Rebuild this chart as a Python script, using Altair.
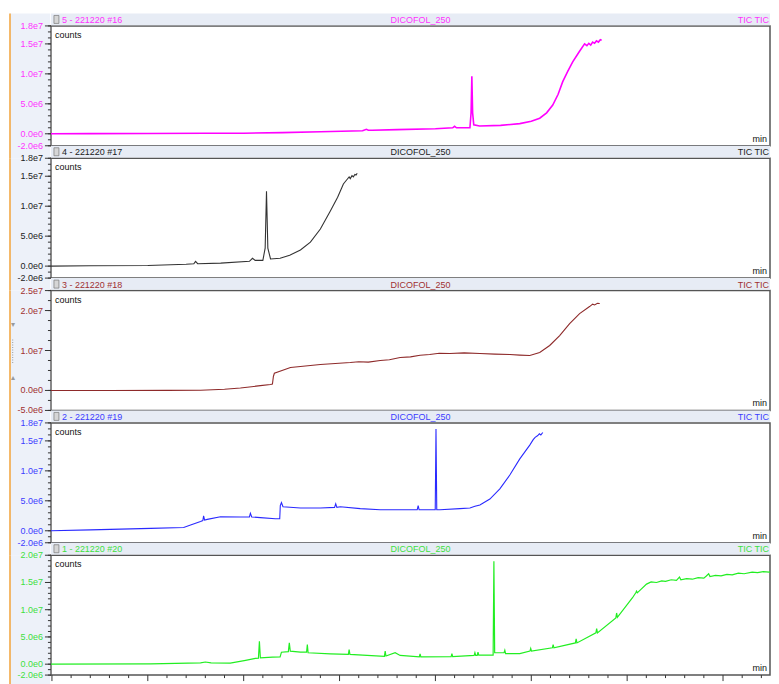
import altair as alt
import pandas as pd

# ---------------- layout constants ----------------
W = 720          # plot width of each panel (keeps the svg inside the 763px body)
H = 120          # plot height of each panel
SP = 12.5        # header strip / spacing between panels
FONT = "Liberation Sans"

# ---------------- data ----------------
X_DOMAIN = [9.948, 47.45]
x_major = [10, 15, 20, 25, 30, 35, 40, 45]
x_major_labels = ["10.0", "15.0", "20.0", "25.0", "30.0", "35.0", "40.0", "45.0"]
x_minor = [11, 12, 13, 14, 16, 17, 18, 19, 21, 22, 23, 24, 26, 27, 28, 29,
           31, 32, 33, 34, 36, 37, 38, 39, 41, 42, 43, 44, 46, 47]

panel_titles = ["5 - 221220 #16", "4 - 221220 #17", "3 - 221220 #18",
                "2 - 221220 #19", "1 - 221220 #20"]
method_label = "DICOFOL_250"
trace_label = "TIC TIC"
y_unit_label = "counts"
x_unit_label = "min"

# (time in min, counts in millions)
trace_16 = [(9.95, 0.0), (12.0, 0.02), (15.0, 0.05), (18.0, 0.08), (20.0, 0.1), (22.0, 0.2),
            (24.0, 0.35), (26.2, 0.5), (26.4, 0.75), (26.5, 0.6), (26.7, 0.6), (28.0, 0.7),
            (30.0, 0.85), (30.9, 1.0), (31.0, 1.25), (31.1, 1.0), (31.8, 1.0), (31.86, 3.5),
            (31.9, 9.6), (31.94, 3.5), (32.0, 1.5), (32.3, 1.3), (33.4, 1.4), (34.4, 1.7),
            (35.0, 2.1), (35.44, 2.6), (35.8, 3.5), (36.12, 4.8), (36.4, 6.6), (36.64, 8.7),
            (36.9, 10.4), (37.16, 12.0), (37.5, 13.7), (37.78, 15.0), (37.9, 14.7), (38.0, 15.1),
            (38.1, 14.8), (38.2, 15.3), (38.3, 15.1), (38.4, 15.5), (38.5, 15.3), (38.6, 15.7),
            (38.67, 15.6)]

trace_17 = [(9.95, 0.0), (12.0, 0.05), (15.0, 0.1), (17.0, 0.3), (17.4, 0.4), (17.49, 0.8),
            (17.6, 0.4), (18.8, 0.5), (20.3, 0.8), (20.46, 1.3), (20.6, 0.95), (21.0, 0.95),
            (21.12, 3.0), (21.19, 12.5), (21.26, 3.0), (21.4, 1.2), (21.9, 1.3), (22.4, 1.8),
            (22.96, 2.7), (23.48, 4.0), (24.0, 6.2), (24.52, 9.2), (24.9, 11.5), (25.2, 13.7),
            (25.4, 14.5), (25.5, 14.9), (25.56, 14.6), (25.65, 15.1), (25.72, 14.9), (25.8, 15.3),
            (25.86, 15.2), (25.92, 15.5)]

trace_18 = [(9.95, 0.0), (13.0, 0.0), (16.0, 0.02), (17.75, 0.05), (19.0, 0.3), (19.83, 0.6),
            (20.87, 1.2), (21.4, 1.5), (21.5, 1.6), (21.55, 3.5), (21.6, 4.3), (22.0, 5.0),
            (22.44, 5.75), (24.0, 6.5), (25.56, 7.0), (26.0, 7.2), (26.5, 7.1), (27.12, 7.5),
            (27.6, 7.7), (28.16, 8.25), (28.7, 8.4), (29.2, 8.8), (29.7, 9.0), (30.2, 9.3),
            (30.76, 9.25), (31.5, 9.4), (32.32, 9.25), (33.1, 9.1), (33.88, 9.0), (34.4, 8.85),
            (34.92, 8.75), (35.44, 9.5), (35.96, 11.25), (36.48, 13.75), (37.0, 16.75),
            (37.52, 19.25), (38.04, 21.0), (38.2, 21.6), (38.3, 21.4), (38.45, 21.8), (38.57, 21.75)]

trace_19 = [(9.95, 0.0), (12.0, 0.15), (15.15, 0.4), (16.87, 0.55), (17.23, 0.95), (17.75, 1.55),
            (17.87, 1.7), (17.91, 2.5), (17.96, 1.8), (18.1, 1.9), (18.79, 2.35), (19.83, 2.3),
            (20.3, 2.3), (20.35, 2.9), (20.42, 2.3), (20.87, 2.2), (21.65, 2.0), (21.88, 2.0),
            (21.91, 4.2), (21.97, 4.7), (22.05, 4.0), (22.96, 3.8), (24.0, 3.8), (24.74, 3.9),
            (24.8, 4.5), (24.86, 3.9), (25.04, 4.0), (26.08, 3.7), (27.12, 3.5), (28.16, 3.5),
            (29.05, 3.5), (29.1, 4.2), (29.15, 3.5), (29.72, 3.5), (29.99, 3.5), (30.03, 17.0),
            (30.07, 3.5), (30.24, 3.5), (31.28, 3.7), (31.8, 3.8), (32.06, 4.1), (32.32, 4.3),
            (32.84, 5.3), (33.36, 7.0), (33.88, 9.3), (34.4, 12.0), (34.92, 14.3), (35.1, 15.2),
            (35.2, 15.6), (35.34, 15.9), (35.42, 16.2), (35.5, 16.0), (35.6, 16.4)]

trace_20 = [(9.95, 0.0), (15.15, 0.05), (17.75, 0.25), (18.0, 0.4), (18.3, 0.25), (19.3, 0.2),
            (20.1, 0.7), (20.61, 1.05), (20.77, 1.1), (20.82, 4.2), (20.87, 1.15), (21.5, 1.3),
            (21.9, 1.35), (21.97, 2.2), (22.33, 2.3), (22.38, 3.9), (22.43, 2.4), (22.96, 2.2),
            (23.28, 2.2), (23.32, 3.6), (23.36, 2.1), (24.52, 1.9), (25.46, 1.8), (25.5, 2.7),
            (25.54, 1.8), (27.34, 1.45), (27.38, 2.4), (27.42, 1.5), (27.9, 2.1), (28.16, 1.6),
            (29.16, 1.35), (29.2, 1.9), (29.24, 1.35), (30.82, 1.4), (30.86, 1.95), (30.9, 1.4),
            (32.02, 1.6), (32.06, 2.1), (32.1, 1.6), (32.18, 1.6), (32.22, 2.2), (32.26, 1.65),
            (33.01, 1.65), (33.05, 18.9), (33.09, 2.1), (33.58, 2.1), (33.62, 2.55), (33.66, 1.95),
            (34.4, 1.95), (34.93, 2.4), (34.97, 2.9), (35.01, 2.4), (36.1, 3.0), (36.14, 3.6),
            (36.18, 3.0), (37.3, 3.9), (37.34, 4.65), (37.38, 3.9), (38.37, 5.75), (38.41, 6.55),
            (38.45, 5.75), (39.41, 8.5), (39.45, 9.4), (39.49, 8.6), (40.28, 12.2), (40.45, 13.1),
            (40.49, 13.4), (40.53, 13.1), (41.01, 14.7), (41.25, 15.1), (41.53, 15.0), (41.8, 15.3),
            (42.0, 15.2), (42.3, 15.5), (42.57, 15.4), (42.73, 16.0), (42.8, 15.5), (43.1, 15.7),
            (43.4, 15.6), (43.7, 15.9), (44.0, 15.8), (44.13, 16.2), (44.25, 16.6), (44.32, 16.1),
            (44.6, 16.3), (44.9, 16.2), (45.2, 16.5), (45.48, 16.4), (45.8, 16.7), (46.1, 16.6),
            (46.52, 16.9), (46.8, 16.8), (47.1, 17.0), (47.4, 16.9), (47.77, 17.1), (47.88, 17.0)]

y_major_18 = [-2e6, 0, 5e6, 1e7, 1.5e7, 1.8e7]
y_labels_18 = ["-2.0e6", "0.0e0", "5.0e6", "1.0e7", "1.5e7", "1.8e7"]
y_major_25 = [-5e6, 0, 1e7, 2e7, 2.5e7]
y_labels_25 = ["-5.0e6", "0.0e0", "1.0e7", "2.0e7", "2.5e7"]
y_major_20 = [-2e6, 0, 5e6, 1e7, 1.5e7, 2e7]
y_labels_20 = ["-2.0e6", "0.0e0", "5.0e6", "1.0e7", "1.5e7", "2.0e7"]
y_minor_18 = [k * 1e6 for k in range(-2, 19)]
y_minor_25 = [k * 2.5e6 for k in range(-2, 11)]
y_minor_20 = [k * 1e6 for k in range(-2, 21)]

PANELS = [
    dict(title=panel_titles[0], trace=trace_16, line="#ff00ff", text="#ff33ff", sw=1.6,
         ydom=[-2e6, 1.8e7], major=y_major_18, labels=y_labels_18, minor=y_minor_18),
    dict(title=panel_titles[1], trace=trace_17, line="#333333", text="#222222", sw=1.1,
         ydom=[-2e6, 1.8e7], major=y_major_18, labels=y_labels_18, minor=y_minor_18),
    dict(title=panel_titles[2], trace=trace_18, line="#8e2a2a", text="#a03030", sw=1.1,
         ydom=[-5e6, 2.5e7], major=y_major_25, labels=y_labels_25, minor=y_minor_25),
    dict(title=panel_titles[3], trace=trace_19, line="#2a2aff", text="#3c3cff", sw=1.1,
         ydom=[-2e6, 1.8e7], major=y_major_18, labels=y_labels_18, minor=y_minor_18),
    dict(title=panel_titles[4], trace=trace_20, line="#22ee22", text="#3ee03e", sw=1.2,
         ydom=[-2e6, 2e7], major=y_major_20, labels=y_labels_20, minor=y_minor_20),
]


def make_panel(i):
    p = PANELS[i]
    first = i == 0
    last = i == len(PANELS) - 1
    df = pd.DataFrame(p["trace"], columns=["t", "m"])
    df["counts"] = df["m"] * 1e6

    xscale = alt.Scale(domain=X_DOMAIN, nice=False, zero=False)
    yscale = alt.Scale(domain=p["ydom"], nice=False, zero=False)

    info = pd.DataFrame({"title": [p["title"]], "method": [method_label],
                         "trace": [trace_label], "yu": [y_unit_label], "xu": [x_unit_label],
                         "down": ["\u25be"], "up": ["\u25b4"]})
    base = alt.Chart(info)
    top = -SP if first else 0
    bottom = H + 22 if last else H + SP

    # left column background of this panel also covers the strip below it,
    # so the next panel (drawn later) never hides this panel's lowest label
    left_bg = base.mark_rect(color="#edf1f9").encode(
        x=alt.value(-41), x2=alt.value(-0.8), y=alt.value(top), y2=alt.value(bottom))
    head_bg = base.mark_rect(color="#e7ecf5").encode(
        x=alt.value(0), x2=alt.value(W), y=alt.value(-SP), y2=alt.value(-0.8))
    orange = base.mark_rule(color="#f2a33a", strokeWidth=1.5).encode(
        x=alt.value(-41), y=alt.value(top), y2=alt.value(bottom))
    icon = base.mark_rect(fill="#d6d6d6", stroke="#777", strokeWidth=0.7).encode(
        x=alt.value(3), x2=alt.value(8), y=alt.value(-10.5), y2=alt.value(-2.5))
    txt = dict(baseline="middle", fontSize=9, font=FONT)
    t_title = base.mark_text(align="left", color=p["text"], **txt).encode(
        text="title:N", x=alt.value(11), y=alt.value(-6))
    t_method = base.mark_text(align="center", color=p["text"], **txt).encode(
        text="method:N", x=alt.value(370), y=alt.value(-6))
    t_trace = base.mark_text(align="right", color=p["text"], **txt).encode(
        text="trace:N", x=alt.value(W - 1), y=alt.value(-6))
    t_yu = base.mark_text(align="left", color="#111", **txt).encode(
        text="yu:N", x=alt.value(4), y=alt.value(9))
    t_xu = base.mark_text(align="right", color="#111", **txt).encode(
        text="xu:N", x=alt.value(W - 3), y=alt.value(H - 7))

    # y axis drawn through the y scale
    minor_y = alt.Chart(pd.DataFrame({"counts": p["minor"]})).mark_rule(
        color="#333", strokeWidth=1).encode(
        y=alt.Y("counts:Q", scale=yscale, axis=None), x=alt.value(-3), x2=alt.value(0))
    ymaj = pd.DataFrame({"counts": p["major"], "label": p["labels"]})
    major_y = alt.Chart(ymaj).mark_rule(color="#333", strokeWidth=1).encode(
        y=alt.Y("counts:Q", scale=yscale, axis=None), x=alt.value(-6), x2=alt.value(0))
    label_y = alt.Chart(ymaj).mark_text(align="right", baseline="middle", fontSize=9,
                                        font=FONT, color=p["text"]).encode(
        y=alt.Y("counts:Q", scale=yscale, axis=None), x=alt.value(-8), text="label:N")

    line = alt.Chart(df).mark_line(color=p["line"], strokeWidth=p["sw"], clip=True).encode(
        x=alt.X("t:Q", scale=xscale, axis=None),
        y=alt.Y("counts:Q", scale=yscale, axis=None))

    layers = [left_bg, head_bg, orange, icon, t_title, t_method, t_trace, t_yu, t_xu,
              minor_y, major_y, label_y]
    if i == 2:
        grip_d = base.mark_text(align="center", color="#999", fontSize=8, baseline="middle").encode(
            text="down:N", x=alt.value(-38.3), y=alt.value(34))
        grip_u = base.mark_text(align="center", color="#999", fontSize=8, baseline="middle").encode(
            text="up:N", x=alt.value(-38.3), y=alt.value(88))
        grip_l = base.mark_rule(color="#999", strokeWidth=1, strokeDash=[1, 1.5]).encode(
            x=alt.value(-38.3), y=alt.value(49), y2=alt.value(74))
        layers += [grip_d, grip_u, grip_l]
    if last:
        minor_x = alt.Chart(pd.DataFrame({"t": x_minor})).mark_rule(
            color="#333", strokeWidth=1).encode(
            x=alt.X("t:Q", scale=xscale, axis=None), y=alt.value(H), y2=alt.value(H + 3))
        xmaj = pd.DataFrame({"t": x_major, "label": x_major_labels})
        major_x = alt.Chart(xmaj).mark_rule(color="#333", strokeWidth=1).encode(
            x=alt.X("t:Q", scale=xscale, axis=None), y=alt.value(H), y2=alt.value(H + 6))
        label_x = alt.Chart(xmaj).mark_text(align="center", baseline="top", fontSize=9,
                                            font=FONT, color="#222").encode(
            x=alt.X("t:Q", scale=xscale, axis=None), y=alt.value(H + 8), text="label:N")
        layers += [minor_x, major_x, label_x]
    layers.append(line)
    return alt.layer(*layers).properties(width=W, height=H)


chart = alt.vconcat(*[make_panel(i) for i in range(len(PANELS))],
                    spacing=SP, bounds="flush").properties(
    padding={"left": 0, "top": 3.5, "right": 0, "bottom": 0},
    background="white",
).configure_view(stroke="#555", strokeWidth=1.5, fill="white")

chart.save("out.html", embed_options={"renderer": "svg", "actions": False})
